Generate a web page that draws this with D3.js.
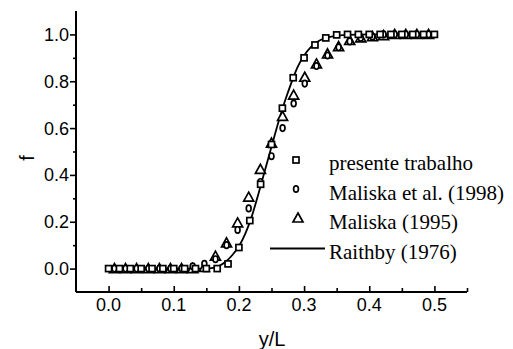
<!DOCTYPE html>
<html>
<head>
<meta charset="utf-8">
<script src="https://cdn.jsdelivr.net/npm/d3@7"></script>
<style>
  body { margin: 0; background: #fff; }
  svg { display: block; }
  .tick-label { font-family: "Liberation Sans", Arial, sans-serif; font-size: 18px; }
  .legend-text { font-family: "Liberation Serif", "Times New Roman", serif; font-size: 21px; }
</style>
</head>
<body>
<svg id="chart" width="513" height="349"></svg>
<script>
// presente trabalho (squares)
const sqX = [0, 0.0167, 0.0333, 0.05, 0.0667, 0.0833, 0.1, 0.1167, 0.1333, 0.15,
  0.1667, 0.1833, 0.2, 0.2167, 0.2333, 0.25, 0.2667, 0.2833, 0.3, 0.3167,
  0.3333, 0.35, 0.3667, 0.3833, 0.4, 0.4167, 0.4333, 0.45, 0.4667, 0.4833, 0.5];
const sqF = [0, 0, 0, 0, 0, 0, 0, 0, 0, 0,
  0, 0.02, 0.09, 0.205, 0.36, 0.53, 0.685, 0.815, 0.90, 0.955,
  0.985, 0.998, 1.0, 1.0, 1.0, 1.0, 1.0, 1.0, 1.0, 1.0, 1.0];

// Maliska et al. (1998) circles and Maliska (1995) triangles share x positions
const mkX = [0.009, 0.026, 0.043, 0.061, 0.078, 0.095, 0.112, 0.129, 0.147, 0.164,
  0.181, 0.198, 0.215, 0.233, 0.25, 0.267, 0.284, 0.301, 0.319, 0.336,
  0.353, 0.37, 0.387, 0.405, 0.422, 0.439, 0.456, 0.473, 0.491];
const ciF = [0, 0, 0, 0, 0, 0, 0, 0.01, 0.02, 0.04,
  0.10, 0.165, 0.257, 0.37, 0.48, 0.60, 0.705, 0.79, 0.865, 0.91,
  0.945, 0.97, 0.985, 0.99, 1.0, 1.0, 1.0, 1.0, 1.0];
const trF = [0, 0, 0, 0, 0, 0, 0, 0, 0.005, 0.053,
  0.11, 0.195, 0.305, 0.424, 0.536, 0.65, 0.741, 0.817, 0.874, 0.917,
  0.948, 0.974, 0.985, 0.99, 0.995, 1.0, 1.0, 1.0, 1.0];

// Raithby (1976) curve
const lnX = [0, 0.1, 0.15, 0.16, 0.17, 0.18, 0.19, 0.2, 0.21, 0.22, 0.23, 0.24, 0.25,
  0.26, 0.27, 0.28, 0.29, 0.3, 0.31, 0.32, 0.33, 0.34, 0.36, 0.4, 0.5];
const lnF = [0, 0, 0, 0.003, 0.012, 0.03, 0.058, 0.095, 0.15, 0.225, 0.32, 0.42, 0.52,
  0.62, 0.71, 0.79, 0.86, 0.91, 0.945, 0.968, 0.982, 0.99, 0.997, 1.0, 1.0];

const xTicks = [0, 0.1, 0.2, 0.3, 0.4, 0.5];
const yTicks = [0, 0.2, 0.4, 0.6, 0.8, 1.0];
const legendLabels = ["presente trabalho", "Maliska et al. (1998)", "Maliska (1995)", "Raithby (1976)"];

const svg = d3.select("#chart");
const plotL = 76, plotR = 467, plotT = 11, plotB = 292;

const x = d3.scaleLinear().domain([-0.05, 0.55]).range([plotL, plotR]);
const y = d3.scaleLinear().domain([-0.1, 1.1]).range([plotB, plotT]);

// x axis: ticks point into the plot
const xAxis = svg.append("g").attr("transform", `translate(0,${plotB})`)
  .call(d3.axisTop(x).tickValues(d3.range(0, 0.551, 0.05)).tickSize(4).tickFormat(""));
xAxis.selectAll(".tick line")
  .attr("y2", (d, i) => i % 2 === 0 ? -6 : -4)
  .attr("stroke-width", 1.6);
xAxis.select(".domain").attr("d", `M${plotL},0H${plotR}`).attr("stroke-width", 2);

svg.append("g").selectAll("text").data(xTicks).enter().append("text")
  .attr("class", "tick-label")
  .attr("x", d => x(d)).attr("y", 311)
  .attr("text-anchor", "middle")
  .text(d => d.toFixed(1));

// y axis: ticks point outward
const yAxis = svg.append("g").attr("transform", `translate(${plotL},0)`)
  .call(d3.axisLeft(y).tickValues(d3.range(0, 1.01, 0.1)).tickSize(5).tickFormat(""));
yAxis.selectAll(".tick line")
  .attr("x2", (d, i) => i % 2 === 0 ? -6 : -3)
  .attr("stroke-width", 1.6);
yAxis.select(".domain").attr("d", `M0,${plotT}V${plotB}`).attr("stroke-width", 2);

svg.append("g").selectAll("text").data(yTicks).enter().append("text")
  .attr("class", "tick-label")
  .attr("x", 69).attr("y", d => y(d) + 6.5)
  .attr("text-anchor", "end")
  .text(d => d.toFixed(1));

// axis titles
svg.append("text")
  .attr("transform", "translate(34,158) rotate(-90)")
  .attr("text-anchor", "middle")
  .style("font-family", "Liberation Sans, Arial, sans-serif")
  .style("font-size", "20px")
  .text("f");

svg.append("text")
  .attr("x", 272).attr("y", 346)
  .attr("text-anchor", "middle")
  .style("font-family", "Liberation Sans, Arial, sans-serif")
  .style("font-size", "20px")
  .text("y/L");

// Raithby line
const line = d3.line().x(d => x(d[0])).y(d => y(d[1])).curve(d3.curveMonotoneX);
svg.append("path")
  .datum(d3.zip(lnX, lnF))
  .attr("d", line)
  .attr("fill", "none").attr("stroke", "#000").attr("stroke-width", 1.8);

const triPath = "M0,-5L5,4L-5,4Z";

// markers
svg.append("g").selectAll("path").data(d3.zip(mkX, trF)).enter().append("path")
  .attr("d", triPath)
  .attr("transform", d => `translate(${x(d[0])},${y(d[1])})`)
  .attr("fill", "#fff").attr("stroke", "#000").attr("stroke-width", 1.7);

svg.append("g").selectAll("ellipse").data(d3.zip(mkX, ciF)).enter().append("ellipse")
  .attr("cx", d => x(d[0])).attr("cy", d => y(d[1]))
  .attr("rx", 2.4).attr("ry", 3.2)
  .attr("fill", "#fff").attr("stroke", "#000").attr("stroke-width", 1.7);

svg.append("g").selectAll("rect").data(d3.zip(sqX, sqF)).enter().append("rect")
  .attr("x", d => x(d[0]) - 3).attr("y", d => y(d[1]) - 3)
  .attr("width", 6).attr("height", 6)
  .attr("fill", "#fff").attr("stroke", "#000").attr("stroke-width", 1.7);

// legend
const lg = svg.append("g");
lg.append("rect").attr("x", 293).attr("y", 157).attr("width", 6).attr("height", 6)
  .attr("fill", "#fff").attr("stroke", "#000").attr("stroke-width", 1.7);
lg.append("ellipse").attr("cx", 296).attr("cy", 189).attr("rx", 2.4).attr("ry", 3.2)
  .attr("fill", "#fff").attr("stroke", "#000").attr("stroke-width", 1.7);
lg.append("path").attr("d", triPath).attr("transform", "translate(298,218)")
  .attr("fill", "#fff").attr("stroke", "#000").attr("stroke-width", 1.7);
lg.append("line").attr("x1", 270).attr("x2", 325).attr("y1", 248.5).attr("y2", 248.5)
  .attr("stroke", "#000").attr("stroke-width", 1.8);

lg.selectAll("text").data(legendLabels).enter().append("text")
  .attr("class", "legend-text")
  .attr("x", 329).attr("y", (d, i) => 170 + i * 29.7)
  .text(d => d);
</script>
</body>
</html>
